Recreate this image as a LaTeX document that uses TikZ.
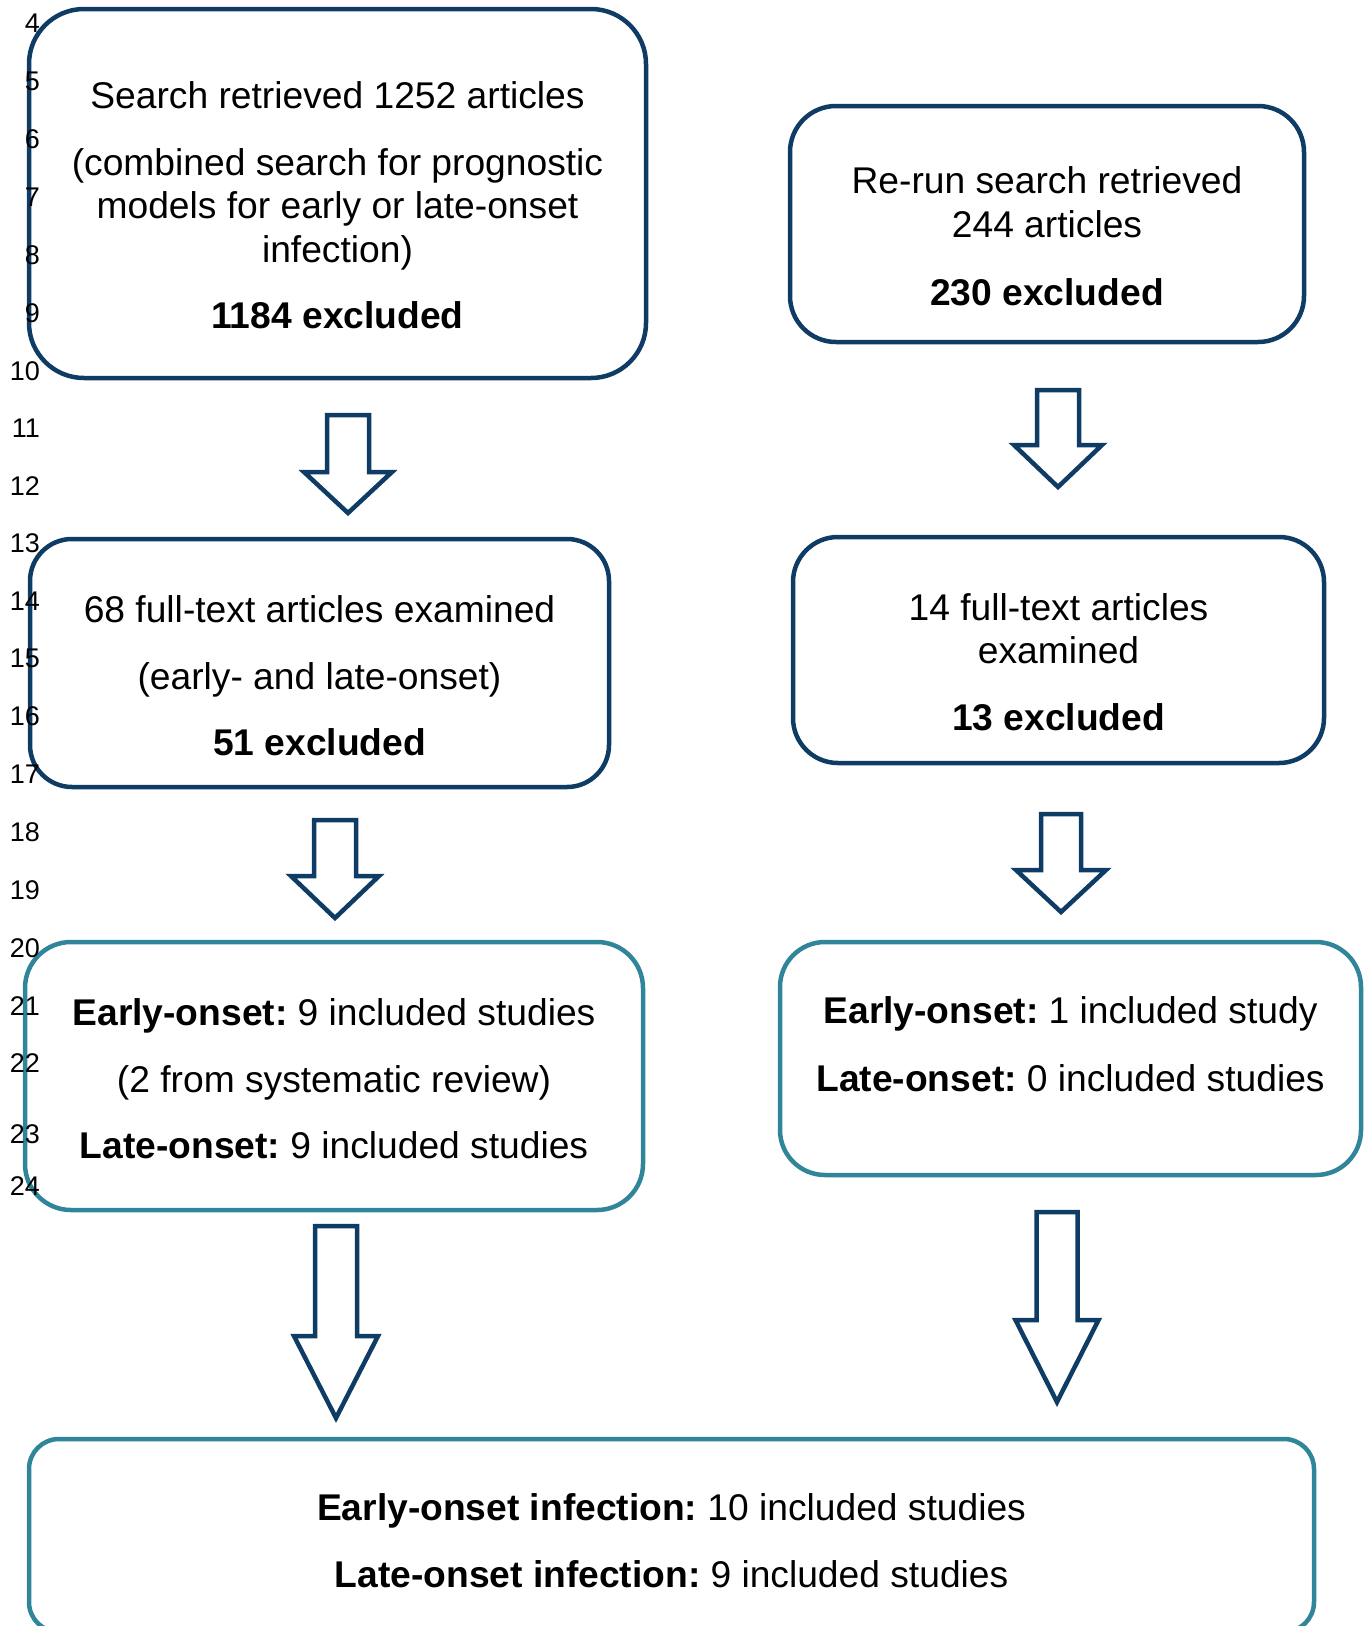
\documentclass[tikz,border=0pt]{standalone}
\usepackage{fontspec}
\setmainfont{Liberation Sans}
\definecolor{navy}{RGB}{14,60,100}
\definecolor{tealb}{RGB}{49,133,155}
\newcommand\flowarrow[7]{% name, cx, top, head, tip, shaft half, head half
  \coordinate (#1) at (#2,#3);
  \draw[blockarrow] ({#2-#6},#3) -- ({#2+#6},#3) -- ({#2+#6},#4) -- ({#2+#7},#4)
    -- (#2,#5) -- ({#2-#7},#4) -- ({#2-#6},#4) -- cycle;}
\newcommand\bsp{\hspace{0.27em}}
\tikzset{
  navybox/.style={draw=navy, line width=4.5pt, rounded corners=#1, inner sep=0pt},
  tealbox/.style={draw=tealb, line width=4.5pt, rounded corners=#1, inner sep=0pt},
  blockarrow/.style={draw=navy, line width=4.5pt, fill=white, line join=miter},
  txt/.style={anchor=base, inner sep=0pt, font=\fontsize{37.2}{42}\selectfont},
  lnum/.style={anchor=base east, inner sep=0pt, font=\fontsize{27}{30}\selectfont},
}
\begin{document}
\begin{tikzpicture}[x=1pt, y=-1pt]
\useasboundingbox (0,0) rectangle (1368,1626);
% boxes
\node[navybox=55pt, minimum width=617pt, minimum height=369pt] (b1) at (337.5,193.5) {};
\node[navybox=46pt, minimum width=514pt, minimum height=236pt] (r1) at (1047,224) {};
\node[navybox=42pt, minimum width=579pt, minimum height=248pt] (b2) at (319.5,663) {};
\node[navybox=45pt, minimum width=531pt, minimum height=226pt] (r2) at (1058.5,650) {};
\node[tealbox=46pt, minimum width=618pt, minimum height=268pt] (b3) at (334,1076) {};
\node[tealbox=45pt, minimum width=581pt, minimum height=233pt] (r3) at (1070.5,1058.5) {};
\node[tealbox=30pt, minimum width=1285pt, minimum height=193pt] (b4) at (671.5,1535.5) {};
% texts
\node[txt] (b1a) at (b1 |- 0,108) {Search retrieved 1252 articles};
\node[txt] (b1b) at (b1 |- 0,175) {(combined search for prognostic};
\node[txt] (b1c) at (b1 |- 0,218) {models for early or late-onset};
\node[txt] (b1d) at (b1 |- 0,262) {infection)};
\node[txt] (b1e) at (b1 |- 0,328) {\textbf{1184 excluded}};
\node[txt] (r1a) at (r1 |- 0,193) {Re-run search retrieved};
\node[txt] (r1b) at (r1 |- 0,237) {244 articles};
\node[txt] (r1c) at (r1 |- 0,305) {\textbf{230 excluded}};
\node[txt] (b2a) at (b2 |- 0,622) {68 full-text articles examined};
\node[txt] (b2b) at (b2 |- 0,689) {(early- and late-onset)};
\node[txt] (b2c) at (b2 |- 0,755) {\textbf{51 excluded}};
\node[txt] (r2a) at (r2 |- 0,620) {14 full-text articles};
\node[txt] (r2b) at (r2 |- 0,663) {examined};
\node[txt] (r2c) at (r2 |- 0,730) {\textbf{13 excluded}};
\node[txt] (b3a) at (b3 |- 0,1025) {\textbf{Early-onset:}\bsp9 included studies};
\node[txt] (b3b) at (b3 |- 0,1092) {(2 from systematic review)};
\node[txt] (b3c) at (b3 |- 0,1158) {\textbf{Late-onset:}\bsp9 included studies};
\node[txt] (r3a) at (r3 |- 0,1023) {\textbf{Early-onset:}\bsp1 included study};
\node[txt] (r3b) at (r3 |- 0,1091) {\textbf{Late-onset:}\bsp0 included studies};
\node[txt] (b4a) at (b4 |- 0,1520) {\textbf{Early-onset infection:}\bsp10 included studies};
\node[txt] (b4b) at (b4 |- 0,1587) {\textbf{Late-onset infection:}\bsp9 included studies};
% block arrows
\flowarrow{a1}{348}{415}{472}{513}{21}{44}
\flowarrow{a2}{1058}{390}{445}{487}{21}{44}
\flowarrow{a3}{335}{820}{876}{918}{21}{44}
\flowarrow{a4}{1061}{814}{870}{912}{20}{45}
\flowarrow{a5}{336}{1226}{1336}{1418}{21}{42}
\flowarrow{a6}{1057}{1212}{1320}{1402}{20.5}{41.5}
% line numbers
\foreach \n/\y in {4/32,5/90,6/148,7/206,8/264,9/322,10/380,11/437,12/495,13/552,14/610,15/667,16/725,17/783,18/841,19/899,20/957,21/1015,22/1072,23/1143,24/1195}
  \node[lnum] (ln\n) at (40,\y) {\n};
\end{tikzpicture}
\end{document}
